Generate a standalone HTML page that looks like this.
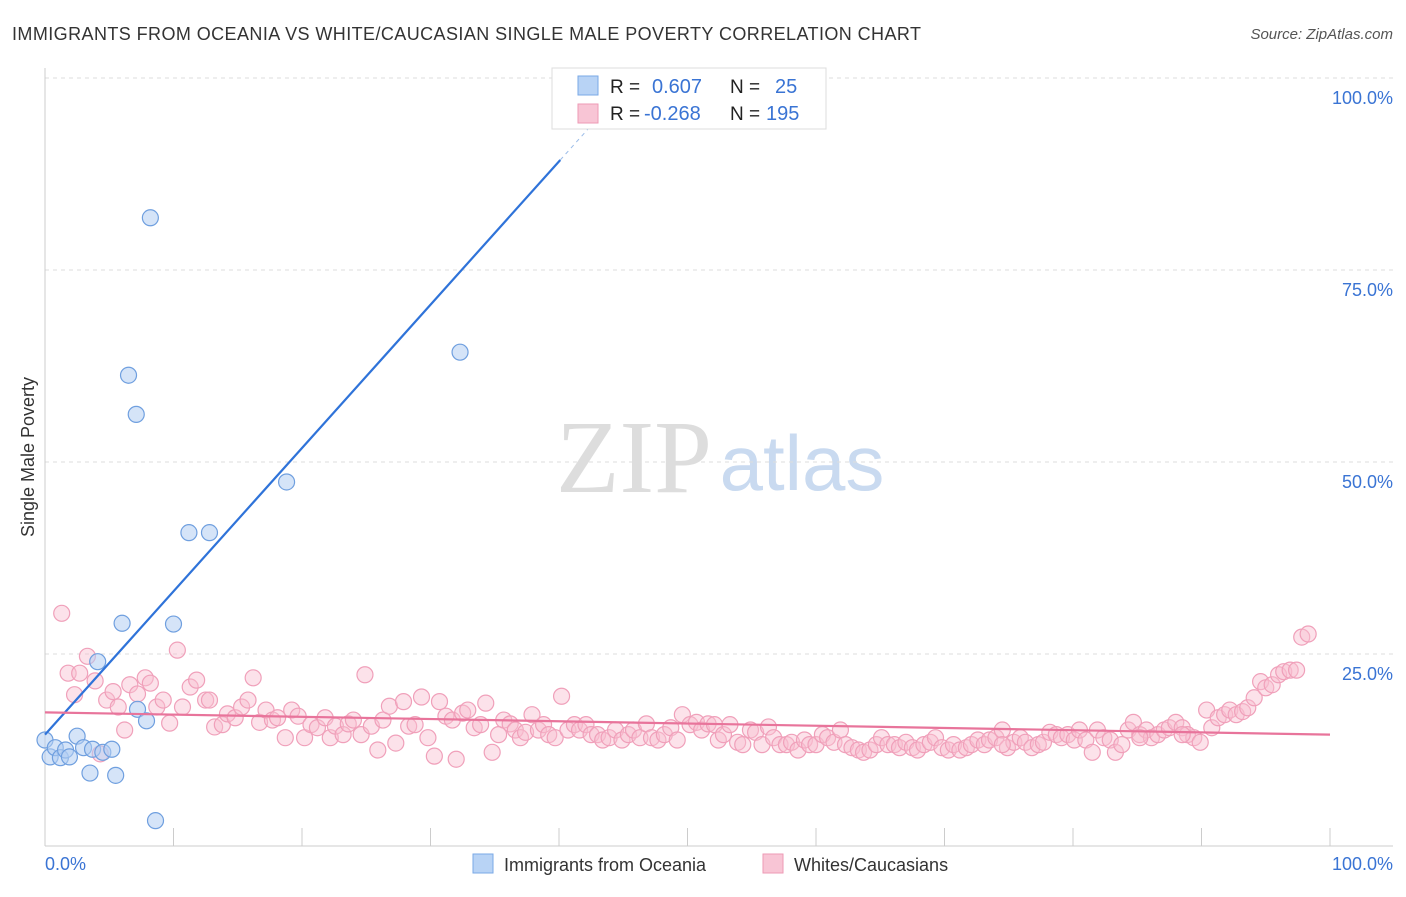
<!DOCTYPE html>
<html><head><meta charset="utf-8">
<style>
body{margin:0;background:#fff;font-family:"Liberation Sans",sans-serif;}
svg text{font-family:"Liberation Sans",sans-serif;}
</style></head>
<body>
<svg id="chart" width="1406" height="892" xmlns="http://www.w3.org/2000/svg">
<text x="12" y="40" font-size="18" fill="#333" textLength="909" lengthAdjust="spacing">IMMIGRANTS FROM OCEANIA VS WHITE/CAUCASIAN SINGLE MALE POVERTY CORRELATION CHART</text>
<text x="1393" y="39" font-size="15" fill="#555" font-style="italic" text-anchor="end">Source: ZipAtlas.com</text>
<text x="34" y="457" font-size="18" fill="#333" text-anchor="middle" transform="rotate(-90 34 457)">Single Male Poverty</text>
<g>
<text x="634" y="492" font-size="104" fill="#ddd" text-anchor="middle" style="font-family:'Liberation Serif',serif">ZIP</text>
<text x="802" y="490" font-size="78" fill="#c9daf0" text-anchor="middle">atlas</text>
</g>
<g id="grid"></g>
<g id="axes"></g>
<g id="pink"></g>
<g id="blue"></g>
<g id="lines"></g>
<g>
<rect x="552" y="68" width="274" height="61" fill="#fff" stroke="#ddd"/>
<rect x="578" y="76" width="20" height="19" fill="#b8d3f5" stroke="#7aa8e6"/>
<rect x="578" y="104" width="20" height="19" fill="#f8c5d5" stroke="#ee9ab5"/>
<text x="610" y="93" font-size="19" fill="#222">R = </text><text x="652" y="93" font-size="20" fill="#3a74d4">0.607</text>
<text x="730" y="93" font-size="19" fill="#222">N = </text><text x="775" y="93" font-size="20" fill="#3a74d4">25</text>
<text x="610" y="120" font-size="19" fill="#222">R = </text><text x="644" y="120" font-size="20" fill="#3a74d4">-0.268</text>
<text x="730" y="120" font-size="19" fill="#222">N = </text><text x="766" y="120" font-size="20" fill="#3a74d4">195</text>
</g>
<g>
<rect x="473" y="854" width="20" height="19" fill="#b8d3f5" stroke="#7aa8e6"/>
<text x="504" y="871" font-size="18" fill="#333">Immigrants from Oceania</text>
<rect x="763" y="854" width="20" height="19" fill="#f8c5d5" stroke="#ee9ab5"/>
<text x="794" y="871" font-size="18" fill="#333">Whites/Caucasians</text>
</g>
</svg>
<script>
const yTicks=[25,50,75,100];
const yTickLabels=["25.0%","50.0%","75.0%","100.0%"];
const xTicks=[10,20,30,40,50,60,70,80,90,100];
const blueX=[0,0.4,0.8,1.2,1.6,1.9,2.5,3.0,3.5,3.7,4.1,4.5,5.2,5.5,6.0,6.5,7.1,7.2,7.9,8.2,8.6,10.0,11.2,12.8,18.8,32.3];
const blueY=[13.8,11.6,12.8,11.5,12.5,11.6,14.3,12.8,9.5,12.6,24.0,12.2,12.6,9.2,29.0,61.3,56.2,17.8,16.3,81.8,3.3,28.9,40.8,40.8,47.4,64.3];
const pinkX=[1.3,1.8,2.3,2.7,3.3,3.9,4.3,4.8,5.3,5.7,6.2,6.6,7.2,7.8,8.2,8.7,9.2,9.7,10.3,10.7,11.3,11.8,12.5,12.8,13.2,13.8,14.2,14.8,15.3,15.8,16.2,16.7,17.2,17.7,18.1,18.7,19.2,19.7,20.2,20.7,21.2,21.8,22.2,22.6,23.2,23.6,24.0,24.6,24.9,25.4,25.9,26.3,26.8,27.3,27.9,28.3,28.8,29.3,29.8,30.3,30.7,31.2,31.7,32.0,32.5,32.9,33.4,33.9,34.3,34.8,35.3,35.7,36.2,36.6,37.0,37.4,37.9,38.4,38.8,39.2,39.7,40.2,40.7,41.2,41.6,42.1,42.5,43.0,43.4,43.9,44.4,44.9,45.4,45.8,46.3,46.8,47.2,47.7,48.2,48.7,49.2,49.6,50.2,50.7,51.1,51.6,52.1,52.4,52.8,53.3,53.9,54.3,54.9,55.3,55.8,56.3,56.7,57.2,57.7,58.1,58.6,59.1,59.5,60.0,60.5,60.9,61.4,61.9,62.3,62.8,63.3,63.7,64.2,64.7,65.1,65.6,66.1,66.5,67.0,67.5,67.9,68.4,68.9,69.3,69.8,70.3,70.7,71.2,71.7,72.1,72.6,73.1,73.5,74.0,74.5,74.9,75.4,75.9,76.3,76.8,77.3,77.7,78.2,78.7,79.1,79.6,80.1,80.5,81.0,81.5,81.9,82.4,82.9,83.3,83.8,84.3,84.7,85.2,85.7,86.1,86.6,87.1,87.5,88.0,88.5,88.9,89.4,89.9,90.4,90.8,91.3,91.8,92.2,92.7,93.2,93.6,94.1,94.6,95.0,95.5,96.0,96.4,96.9,97.4,97.8,98.3,85.2,88.5,74.5];
const pinkY=[30.3,22.5,19.7,22.5,24.7,21.5,12.0,19.0,20.1,18.1,15.1,21.0,19.8,21.9,21.2,18.1,19.0,16.0,25.5,18.1,20.7,21.6,19.0,19.0,15.5,15.8,17.2,16.7,18.1,19.0,21.9,16.1,17.7,16.4,16.7,14.1,17.7,16.9,14.1,15.8,15.4,16.7,14.1,15.6,14.5,15.9,16.4,14.5,22.3,15.6,12.5,16.4,18.2,13.4,18.8,15.6,15.8,19.4,14.1,11.7,18.8,16.9,16.4,11.3,17.3,17.7,15.4,15.8,18.6,12.2,14.5,16.4,15.9,15.1,14.1,14.8,17.1,15.1,15.8,14.5,14.1,19.5,15.1,15.8,15.1,15.8,14.5,14.5,13.8,14.1,15.1,13.8,14.5,15.1,14.1,15.9,14.1,13.8,14.5,15.4,13.8,17.1,15.8,16.1,15.1,15.9,15.8,13.8,14.5,15.8,13.5,13.2,15.1,14.8,13.2,15.5,14.1,13.2,13.2,13.5,12.5,13.8,13.2,13.2,14.5,14.1,13.5,15.1,13.2,12.8,12.5,12.2,12.5,13.2,14.1,13.2,13.2,12.8,13.5,12.8,12.5,13.2,13.5,14.1,12.8,12.5,13.2,12.5,12.8,13.2,13.8,13.2,13.8,14.1,15.1,12.8,13.5,14.1,13.5,12.8,13.2,13.5,14.8,14.5,14.1,14.5,13.8,15.1,13.8,12.2,15.1,14.1,13.8,12.2,13.2,15.1,16.1,14.5,15.1,14.1,14.5,15.1,15.4,16.1,15.4,14.5,14.1,13.5,17.7,15.4,16.7,17.1,17.7,17.1,17.5,18.0,19.3,21.4,20.6,21.0,22.3,22.7,22.9,22.9,27.2,27.6,14.1,14.5,13.2];
const blueLine=[14.5,1.866];
const pinkLine=[17.4,-0.029];
const X0=45,X1=1330,Y0=846,Y100=78;
const sx=v=>X0+(X1-X0)*v/100, sy=v=>Y0-(Y0-Y100)*v/100;
const NS="http://www.w3.org/2000/svg";
function mk(tag,attrs,parent){const e=document.createElementNS(NS,tag);for(const k in attrs)e.setAttribute(k,attrs[k]);parent.appendChild(e);return e;}
const grid=document.getElementById('grid'),axes=document.getElementById('axes');
yTicks.forEach((t,i)=>{
 const g=mk('line',{x1:X0,x2:1393,y1:sy(t),y2:sy(t),stroke:'#ddd','stroke-dasharray':'4,4'},grid);
 
 
 const tx=mk('text',{x:1393,y:sy(t)+26,'font-size':18,fill:'#3a74d4','text-anchor':'end'},grid);
 tx.textContent=yTickLabels[i];
 
 
});
const ax=mk('line',{x1:X0,x2:X0,y1:68,y2:Y0,stroke:'#ccc'},axes);


const bx=mk('line',{x1:X0,x2:1393,y1:Y0,y2:Y0,stroke:'#ccc'},axes);


xTicks.forEach(t=>{
 const l=mk('line',{x1:sx(t),x2:sx(t),y1:828,y2:Y0,stroke:'#ccc'},axes);
 
 
});
const xl0=mk('text',{x:45,y:870,'font-size':18,fill:'#3a74d4'},axes);xl0.textContent='0.0%';


const xl1=mk('text',{x:1393,y:870,'font-size':18,fill:'#3a74d4','text-anchor':'end'},axes);xl1.textContent='100.0%';


const pg=document.getElementById('pink');
pinkX.forEach((x,i)=>{
 const c=mk('circle',{cx:sx(x),cy:sy(pinkY[i]),r:8,fill:'rgba(248,190,208,0.45)',stroke:'#f0a0ba','stroke-width':1.2},pg);
 
 
});
const bg=document.getElementById('blue');
blueX.forEach((x,i)=>{
 const c=mk('circle',{cx:sx(x),cy:sy(blueY[i]),r:8,fill:'rgba(178,206,243,0.55)',stroke:'#6f9fdf','stroke-width':1.2},bg);
 
 
});
const lg=document.getElementById('lines');
const bl=mk('line',{x1:sx(0),y1:sy(blueLine[0]),x2:sx(40.1),y2:sy(blueLine[0]+blueLine[1]*40.1),stroke:'#2f73d9','stroke-width':2.2},lg);


const bd=mk('line',{x1:sx(40.1),y1:sy(blueLine[0]+blueLine[1]*40.1),x2:sx(42.5),y2:sy(blueLine[0]+blueLine[1]*42.5),stroke:'#9bbce8','stroke-width':1,'stroke-dasharray':'4,4'},lg);


const pl=mk('line',{x1:sx(0),y1:sy(pinkLine[0]),x2:sx(100),y2:sy(pinkLine[0]+pinkLine[1]*100),stroke:'#e8749b','stroke-width':2.2},lg);


</script>
</body></html>
